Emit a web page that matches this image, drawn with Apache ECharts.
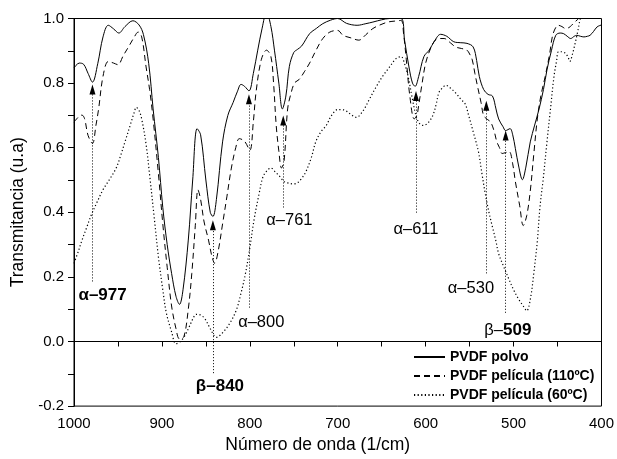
<!DOCTYPE html>
<html>
<head>
<meta charset="utf-8">
<script src="https://cdn.jsdelivr.net/npm/echarts@6/dist/echarts.min.js"></script>
<style>html,body{margin:0;padding:0;background:#fff}#c{width:617px;height:459px}</style>
</head>
<body>
<div id="c"></div>
<script>
// ---- Data (wavenumber 1/cm, transmittance) ----
const seriesNames = ['PVDF polvo', 'PVDF película (110ºC)', 'PVDF película (60ºC)'];

const polvo = [[1000,0.847],[994,0.862],[989,0.858],[984,0.830],[979,0.803],[973,0.860],[967,0.943],[961,0.979],[955,0.968],[949,0.955],[942,0.975],[933,0.993],[926,0.980],[921,0.950],[915,0.860],[910,0.72],[904,0.57],[899,0.415],[894,0.30],[889,0.211],[884,0.140],[880,0.115],[876,0.160],[870,0.314],[865,0.500],[860,0.659],[856,0.640],[850,0.500],[845,0.400],[842,0.387],[838,0.440],[831,0.618],[825,0.700],[819,0.74],[814,0.775],[810,0.796],[806,0.790],[801,0.776],[796,0.830],[791,0.902],[786,0.970],[781,1.02],[776,0.975],[772,0.902],[767,0.800],[763,0.72],[759,0.760],[755,0.852],[750,0.895],[746,0.904],[741,0.915],[732,0.953],[724,0.970],[717,0.984],[708,0.995],[700,1.0],[690,0.985],[678,0.979],[668,0.984],[660,0.989],[650,0.996],[641,1.0],[628,1.0],[624,0.933],[619,0.850],[615,0.800],[612,0.790],[608,0.820],[602,0.882],[596,0.902],[590,0.930],[583,0.951],[576,0.945],[568,0.928],[560,0.925],[553,0.923],[546,0.912],[542,0.870],[539,0.821],[534,0.780],[529,0.765],[524,0.760],[520,0.720],[517,0.689],[512,0.665],[509,0.653],[504,0.659],[501,0.640],[498,0.598],[494,0.540],[490,0.501],[486,0.540],[481,0.618],[476,0.670],[471,0.72],[466,0.780],[462,0.841],[457,0.900],[452,0.948],[447,0.955],[443,0.953],[439,0.945],[435,0.938],[431,0.945],[428,0.948],[424,0.945],[420,0.943],[416,0.945],[413,0.948],[409,0.960],[405,0.974],[400,0.980]];

const pelicula110 = [[1000,0.679],[995,0.695],[991,0.701],[988,0.69],[984,0.638],[979,0.613],[975,0.670],[972,0.72],[967,0.821],[961,0.867],[955,0.862],[950,0.857],[944,0.885],[938,0.912],[932,0.940],[927,0.958],[923,0.943],[918,0.850],[914,0.780],[910,0.689],[904,0.520],[899,0.364],[894,0.230],[889,0.110],[884,0.040],[880,0.008],[875,0.015],[870,0.100],[866,0.211],[862,0.360],[859,0.47],[856,0.440],[852,0.370],[847,0.314],[843,0.262],[840,0.242],[836,0.280],[831,0.364],[826,0.450],[821,0.537],[816,0.600],[812,0.628],[806,0.620],[800,0.592],[796,0.680],[793,0.77],[787,0.872],[781,0.902],[776,0.882],[773,0.800],[770,0.669],[767,0.590],[764,0.537],[761,0.560],[757,0.72],[753,0.770],[749,0.801],[744,0.811],[738,0.835],[732,0.862],[725,0.900],[717,0.938],[709,0.958],[700,0.963],[694,0.948],[685,0.940],[676,0.933],[668,0.950],[660,0.969],[652,0.980],[643,0.989],[635,0.992],[628,0.994],[625,0.950],[622,0.872],[618,0.760],[613,0.689],[610,0.700],[608,0.730],[604,0.800],[600,0.862],[594,0.910],[589,0.933],[584,0.938],[579,0.938],[572,0.925],[566,0.912],[559,0.907],[553,0.902],[550,0.890],[547,0.872],[544,0.830],[541,0.79],[537,0.740],[534,0.699],[530,0.688],[526,0.679],[522,0.650],[519,0.618],[516,0.600],[513,0.582],[509,0.585],[505,0.588],[501,0.550],[498,0.496],[493,0.420],[489,0.359],[485,0.390],[481,0.466],[477,0.580],[473,0.689],[469,0.760],[464,0.821],[459,0.890],[455,0.953],[449,0.979],[445,0.975],[441,0.969],[437,0.972],[434,0.979],[430,0.990],[426,1.0],[420,1.02],[410,1.03],[400,1.03]];

const pelicula60 = [[1000,0.242],[995,0.280],[991,0.313],[986,0.350],[980,0.394],[974,0.430],[967,0.47],[960,0.500],[952,0.537],[947,0.575],[942,0.618],[936,0.670],[932,0.705],[929,0.725],[926,0.715],[923,0.689],[918,0.610],[914,0.516],[909,0.390],[904,0.262],[899,0.160],[895,0.089],[889,0.030],[884,-0.007],[879,0.000],[874,0.018],[869,0.045],[865,0.069],[861,0.084],[856,0.082],[851,0.070],[845,0.040],[838,0.013],[830,0.030],[822,0.060],[815,0.100],[810,0.150],[805,0.210],[800,0.290],[795,0.380],[790,0.450],[785,0.510],[780,0.530],[776,0.537],[771,0.525],[766,0.511],[761,0.495],[757,0.491],[751,0.488],[746,0.491],[741,0.505],[736,0.527],[730,0.570],[725,0.618],[719,0.650],[713,0.669],[707,0.700],[700,0.718],[693,0.717],[686,0.705],[679,0.694],[671,0.715],[664,0.750],[657,0.785],[649,0.821],[641,0.850],[634,0.875],[628,0.882],[624,0.860],[620,0.821],[615,0.750],[611,0.699],[607,0.675],[603,0.669],[598,0.675],[592,0.699],[588,0.735],[585,0.77],[581,0.785],[577,0.793],[572,0.785],[566,0.77],[560,0.750],[555,0.735],[551,0.699],[546,0.650],[540,0.588],[536,0.520],[532,0.455],[528,0.400],[524,0.354],[520,0.310],[517,0.272],[511,0.230],[505,0.191],[500,0.160],[494,0.130],[489,0.110],[485,0.095],[481,0.130],[477,0.211],[473,0.310],[470,0.415],[466,0.510],[462,0.618],[458,0.720],[454,0.821],[451,0.870],[449,0.897],[445,0.897],[441,0.892],[438,0.880],[436,0.867],[433,0.890],[430,0.923],[427,0.960],[424,1.0],[420,1.03],[400,1.03]];

// ---- Annotations ----
const annotX      = [979, 842, 801, 762, 611, 531, 509];
const annotArrowY = [0.780, 0.360, 0.750, 0.684, 0.760, 0.730, 0.638];
const annotBottomY= [0.186, -0.098, 0.105, 0.415, 0.399, 0.211, 0.089];
const labelX      = [967.5, 834, 787, 755, 611, 548.5, 506.5];
const labelY      = [0.143, -0.140, 0.058, 0.375, 0.348, 0.165, 0.034];
const labelText   = ['{b|α–977}', '{b|β–840}', '{n|α–800}', '{n|α–761}', '{n|α–611}', '{n|α–530}', '{n|β–}{b|509}'];

// ---- Axis ticks ----
const xMin = 400, xMax = 1000, xTickStep = 50, xLabelStep = 100;
const yMin = -0.2, yMax = 1.0, yTickStep = 0.1;

const FONT = 'Liberation Sans, Arial, sans-serif';
const chart = echarts.init(document.getElementById('c'), null, {renderer: 'canvas'});

const lineTypes = ['solid', [6, 4], [1.2, 2.4]];
const lineWidths = [1, 1, 1.2];
const datasets = [polvo, pelicula110, pelicula60];

const series = datasets.map((d, i) => ({
  name: seriesNames[i],
  type: 'line',
  data: d,
  symbol: 'none',
  smooth: 0.35,
  clip: true,
  z: 3 - i,
  lineStyle: {color: '#000', width: lineWidths[i], type: lineTypes[i]},
  itemStyle: {color: '#000'},
  animation: false
}));

series[0].markLine = {
  silent: true,
  animation: false,
  symbol: ['none', 'triangle'],
  symbolSize: [6, 10],
  label: {show: false},
  lineStyle: {color: '#000', width: 1, type: [1, 2]},
  itemStyle: {color: '#000'},
  data: annotX.map((x, i) => [
    {coord: [x, annotBottomY[i]]},
    {coord: [x, annotArrowY[i]]}
  ])
};

series.push({
  name: 'labels',
  type: 'scatter',
  data: labelX.map((x, i) => [x, labelY[i]]),
  symbolSize: 1,
  itemStyle: {color: 'transparent', opacity: 1},
  silent: true,
  animation: false,
  z: 10,
  label: {
    show: true,
    position: 'inside',
    color: '#000',
    formatter: p => labelText[p.dataIndex],
    rich: {
      b: {fontFamily: FONT, fontSize: 17, fontWeight: 'bold', color: '#000'},
      n: {fontFamily: FONT, fontSize: 16.5, fontWeight: 'normal', color: '#000'}
    }
  },
  labelLayout: {hideOverlap: false}
});

chart.setOption({
  animation: false,
  backgroundColor: '#fff',
  grid: {left: 74, right: 14, top: 18.5, bottom: 47, show: true, borderColor: '#000', borderWidth: 1, backgroundColor: 'transparent'},
  legend: {
    data: seriesNames,
    orient: 'vertical',
    left: 413, top: 350,
    padding: 0,
    itemWidth: 31, itemHeight: 12, itemGap: 5,
    itemStyle: {color: 'transparent', borderWidth: 0, borderColor: 'transparent'},
    textStyle: {fontFamily: FONT, fontSize: 14, fontWeight: 'bold', color: '#000'},
    inactiveColor: '#000'
  },
  xAxis: {
    type: 'value', min: xMin, max: xMax, interval: xTickStep, inverse: true,
    name: 'Número de onda (1/cm)', nameLocation: 'middle', nameGap: 22,
    nameTextStyle: {fontFamily: FONT, fontSize: 17.5, color: '#000', padding: [0, 40, 0, 0]},
    axisLine: {lineStyle: {color: '#000', width: 1}},
    axisTick: {inside: false, length: 5, lineStyle: {color: '#000'}},
    axisLabel: {fontFamily: FONT, fontSize: 15, color: '#000', margin: 10,
      formatter: v => (Math.round(v) % xLabelStep === 0 ? String(Math.round(v)) : '')},
    splitLine: {show: false}
  },
  yAxis: {
    type: 'value', min: yMin, max: yMax, interval: yTickStep,
    name: 'Transmitancia (u.a)', nameLocation: 'middle', nameGap: 37,
    nameTextStyle: {fontFamily: FONT, fontSize: 17.5, color: '#000'},
    axisLine: {lineStyle: {color: '#000', width: 1}},
    axisTick: {inside: false, length: 6, lineStyle: {color: '#000'}},
    axisLabel: {fontFamily: FONT, fontSize: 15, color: '#000', margin: 10,
      formatter: v => (Math.round(v * 10) % 2 === 0 ? v.toFixed(1) : '')},
    splitLine: {show: false}
  },
  series: series
});
</script>
</body>
</html>
